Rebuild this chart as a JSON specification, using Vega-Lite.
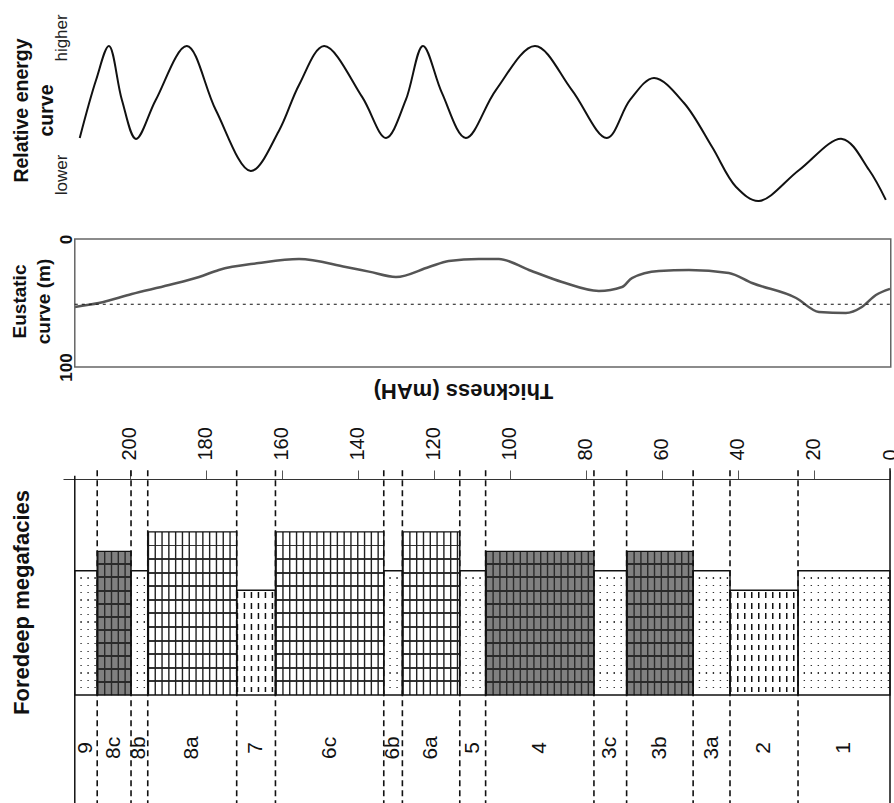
{
  "$schema": "https://vega.github.io/schema/vega-lite/v6.json",
  "autosize": {"type": "pad"},
  "padding": {"left": 9, "top": 12, "right": 0, "bottom": 0},
  "background": "white",
  "bounds": "flush",
  "spacing": 19,
  "config": {"font": "Liberation Sans", "view": {"stroke": null}, "axis": {"grid": false}},
  "datasets": {
    "energy": [
      {"t": 213.2, "v": 33.7}, {"t": 208.9, "v": 64.2}, {"t": 205.5, "v": 82.1}, {"t": 202.1, "v": 53.7},
      {"t": 198.4, "v": 33.2}, {"t": 193.2, "v": 53.7}, {"t": 185.0, "v": 82.1}, {"t": 177.4, "v": 48.4},
      {"t": 168.2, "v": 16.3}, {"t": 160.8, "v": 37.4}, {"t": 155.5, "v": 61.6}, {"t": 148.9, "v": 82.1},
      {"t": 138.9, "v": 55.3}, {"t": 132.6, "v": 33.7}, {"t": 127.4, "v": 53.7}, {"t": 122.9, "v": 82.1},
      {"t": 117.9, "v": 57.4}, {"t": 111.6, "v": 33.7}, {"t": 103.7, "v": 58.9}, {"t": 93.4, "v": 82.1},
      {"t": 83.7, "v": 58.9}, {"t": 74.5, "v": 33.7}, {"t": 68.4, "v": 53.7}, {"t": 62.1, "v": 65.3},
      {"t": 54.2, "v": 52.1}, {"t": 46.8, "v": 28.9}, {"t": 40.5, "v": 7.9}, {"t": 34.5, "v": 0.5},
      {"t": 23.9, "v": 16.8}, {"t": 12.6, "v": 33.2}, {"t": 5.5, "v": 16.8}, {"t": 1.1, "v": 1.1}
    ],
    "eustatic": [
      {"t": 214.5, "depth": 53.1}, {"t": 208.2, "depth": 50}, {"t": 199.5, "depth": 43}, {"t": 189.7, "depth": 36},
      {"t": 181.8, "depth": 29.7}, {"t": 176.6, "depth": 24.2}, {"t": 166.1, "depth": 18.8}, {"t": 155.5, "depth": 15.6},
      {"t": 143.2, "depth": 21.9}, {"t": 137.1, "depth": 25.5}, {"t": 130, "depth": 29.7}, {"t": 121.3, "depth": 21.9},
      {"t": 116.1, "depth": 17.2}, {"t": 108.2, "depth": 15.6}, {"t": 102.9, "depth": 15.6}, {"t": 95, "depth": 24.2},
      {"t": 86.3, "depth": 33.6}, {"t": 76.6, "depth": 40.6}, {"t": 70.5, "depth": 37.5}, {"t": 67.9, "depth": 30.5},
      {"t": 60.8, "depth": 25}, {"t": 52.9, "depth": 24.2}, {"t": 42.4, "depth": 26.6}, {"t": 36.3, "depth": 34.4},
      {"t": 24.7, "depth": 46.1}, {"t": 18.7, "depth": 57}, {"t": 11.6, "depth": 57.8}, {"t": 7.4, "depth": 53.1},
      {"t": 3.7, "depth": 43.8}, {"t": 0, "depth": 39}
    ],
    "beds": [
      {"unit": "9", "top": 214.5, "base": 208.6, "lith": "sandstone", "relief": 1.15},
      {"unit": "8c", "top": 208.6, "base": 199.7, "lith": "dark_limestone", "relief": 1.33},
      {"unit": "8b", "top": 199.7, "base": 195.3, "lith": "sandstone", "relief": 1.15},
      {"unit": "8a", "top": 195.3, "base": 171.9, "lith": "limestone", "relief": 1.51},
      {"unit": "7", "top": 171.9, "base": 161.7, "lith": "mudstone", "relief": 0.97},
      {"unit": "6c", "top": 161.7, "base": 133.2, "lith": "limestone", "relief": 1.51},
      {"unit": "6b", "top": 133.2, "base": 128.3, "lith": "sandstone", "relief": 1.15},
      {"unit": "6a", "top": 128.3, "base": 113.2, "lith": "limestone", "relief": 1.51},
      {"unit": "5", "top": 113.2, "base": 106.4, "lith": "sandstone", "relief": 1.15},
      {"unit": "4", "top": 106.4, "base": 77.9, "lith": "dark_limestone", "relief": 1.33},
      {"unit": "3c", "top": 77.9, "base": 69.3, "lith": "sandstone", "relief": 1.15},
      {"unit": "3b", "top": 69.3, "base": 51.8, "lith": "dark_limestone", "relief": 1.33},
      {"unit": "3a", "top": 51.8, "base": 42.1, "lith": "sandstone", "relief": 1.15},
      {"unit": "2", "top": 42.1, "base": 24.2, "lith": "mudstone", "relief": 0.97},
      {"unit": "1", "top": 24.2, "base": 0, "lith": "sandstone", "relief": 1.15}
    ]
  },
  "vconcat": [
    {
      "width": 827,
      "height": 208,
      "data": {"name": "energy"},
      "mark": {"type": "line", "interpolate": "catmull-rom", "color": "#111", "strokeWidth": 2},
      "encoding": {
        "x": {"field": "t", "type": "quantitative", "scale": {"domain": [0, 217.6], "reverse": true, "nice": false, "zero": false}, "axis": null},
        "y": {
          "field": "v", "type": "quantitative",
          "scale": {"domain": [-9.5, 100], "nice": false, "zero": false},
          "axis": {
            "values": [14.5, 86.6],
            "labelExpr": "datum.value > 50 ? 'higher' : 'lower'",
            "labelAngle": 270,
            "labelAlign": "center",
            "labelBaseline": "alphabetic",
            "labelFontSize": 17,
            "labelColor": "#222",
            "labelPadding": -3,
            "tickSize": 0,
            "ticks": false,
            "domain": false,
            "labelFlush": false,
            "labelOverlap": false,
            "title": ["Relative energy", "curve"],
            "titleFontSize": 19.5,
            "titleFontWeight": "bold",
            "titleColor": "#111",
            "titleLineHeight": 25,
            "titleAngle": 270,
            "titleX": -36,
            "titleY": 98,
            "titleAlign": "center",
            "titleBaseline": "alphabetic"
          }
        }
      }
    },
    {
      "width": 827,
      "height": 221,
      "layer": [
        {
          "data": {"name": "eustatic"},
          "mark": {"type": "line", "interpolate": "monotone", "color": "#555", "strokeWidth": 2.5},
          "encoding": {
            "x": {"field": "t", "type": "quantitative", "scale": {"domain": [0, 217.6], "reverse": true, "nice": false, "zero": false}, "axis": null},
            "y": {
              "field": "depth", "type": "quantitative",
              "scale": {"domain": [0, 172.7], "reverse": true, "nice": false, "zero": false},
              "axis": {
                "values": [0, 100],
                "labelAngle": 270,
                "labelAlign": "center",
                "labelBaseline": "alphabetic",
                "labelFontSize": 17,
                "labelFontWeight": "bold",
                "labelColor": "#111",
                "labelPadding": -8,
                "tickSize": 0,
                "ticks": false,
                "domain": false,
                "labelFlush": false,
                "labelOverlap": false,
                "title": ["Eustatic", "curve (m)"],
                "titleFontSize": 19,
                "titleFontWeight": "bold",
                "titleColor": "#111",
                "titleLineHeight": 24,
                "titleAngle": 270,
                "titleX": -38,
                "titleY": 62,
                "titleAlign": "center",
                "titleBaseline": "alphabetic"
              }
            }
          }
        },
        {
          "data": {"values": [{}]},
          "mark": {"type": "rect", "fillOpacity": 0, "stroke": "#666", "strokeWidth": 1.5},
          "encoding": {
            "x": {"datum": 214.5, "type": "quantitative", "axis": null},
            "x2": {"datum": -0.2},
            "y": {"datum": 0, "type": "quantitative"},
            "y2": {"datum": 100}
          }
        },
        {
          "data": {"values": [{}]},
          "mark": {"type": "rule", "color": "#111", "strokeWidth": 1, "strokeDash": [3, 4]},
          "encoding": {
            "x": {"datum": 214.5, "type": "quantitative", "axis": null},
            "x2": {"datum": 0},
            "y": {"datum": 51, "type": "quantitative"}
          }
        }
      ]
    },
    {
      "width": 827,
      "height": 324,
      "data": {"name": "beds"},
      "layer": [
        {
          "transform": [{"filter": "datum.lith === 'limestone'"}],
          "mark": {"type": "bar", "orient": "vertical", "fill": {"gradient": "linear", "x1": 0, "y1": 0, "x2": 0, "y2": 1, "stops": [
            {"offset": 0, "color": "#fff"},
            {"offset": 0.0773, "color": "#fff"}, {"offset": 0.0773, "color": "#333"}, {"offset": 0.0893, "color": "#333"}, {"offset": 0.0893, "color": "#fff"},
            {"offset": 0.1607, "color": "#fff"}, {"offset": 0.1607, "color": "#333"}, {"offset": 0.1727, "color": "#333"}, {"offset": 0.1727, "color": "#fff"},
            {"offset": 0.244, "color": "#fff"}, {"offset": 0.244, "color": "#333"}, {"offset": 0.256, "color": "#333"}, {"offset": 0.256, "color": "#fff"},
            {"offset": 0.3273, "color": "#fff"}, {"offset": 0.3273, "color": "#333"}, {"offset": 0.3393, "color": "#333"}, {"offset": 0.3393, "color": "#fff"},
            {"offset": 0.4107, "color": "#fff"}, {"offset": 0.4107, "color": "#333"}, {"offset": 0.4227, "color": "#333"}, {"offset": 0.4227, "color": "#fff"},
            {"offset": 0.494, "color": "#fff"}, {"offset": 0.494, "color": "#333"}, {"offset": 0.506, "color": "#333"}, {"offset": 0.506, "color": "#fff"},
            {"offset": 0.5773, "color": "#fff"}, {"offset": 0.5773, "color": "#333"}, {"offset": 0.5893, "color": "#333"}, {"offset": 0.5893, "color": "#fff"},
            {"offset": 0.6607, "color": "#fff"}, {"offset": 0.6607, "color": "#333"}, {"offset": 0.6727, "color": "#333"}, {"offset": 0.6727, "color": "#fff"},
            {"offset": 0.744, "color": "#fff"}, {"offset": 0.744, "color": "#333"}, {"offset": 0.756, "color": "#333"}, {"offset": 0.756, "color": "#fff"},
            {"offset": 0.8273, "color": "#fff"}, {"offset": 0.8273, "color": "#333"}, {"offset": 0.8393, "color": "#333"}, {"offset": 0.8393, "color": "#fff"},
            {"offset": 0.9107, "color": "#fff"}, {"offset": 0.9107, "color": "#333"}, {"offset": 0.9227, "color": "#333"}, {"offset": 0.9227, "color": "#fff"},
            {"offset": 1, "color": "#fff"}
          ]}},
          "encoding": {
            "x": {
              "field": "top", "type": "quantitative",
              "scale": {"domain": [0, 217.6], "reverse": true, "nice": false, "zero": false, "padding": 0},
              "axis": {
                "orient": "top",
                "values": [0, 20, 40, 60, 80, 100, 120, 140, 160, 180, 200],
                "labelAngle": 270,
                "labelAlign": "left",
                "labelBaseline": "middle",
                "labelFontSize": 20,
                "labelColor": "#111",
                "labelPadding": 10,
                "tickSize": 9,
                "tickColor": "#555",
                "domainColor": "#333",
                "labelFlush": false,
                "labelOverlap": false,
                "title": "Thickness (mAH)",
                "titleAngle": 180,
                "titleFontSize": 22,
                "titleFontWeight": "bold",
                "titleColor": "#111",
                "titleX": 400,
                "titleY": -89,
                "titleAlign": "center",
                "titleBaseline": "middle"
              }
            },
            "x2": {"field": "base"},
            "y": {
              "field": "relief", "type": "quantitative", "stack": null,
              "scale": {"domain": [-1, 2], "nice": false, "zero": false, "padding": 0},
              "axis": {
                "orient": "left",
                "labels": false,
                "ticks": false,
                "domain": false,
                "title": "Foredeep megafacies",
                "titleFontSize": 22,
                "titleFontWeight": "bold",
                "titleColor": "#111",
                "titleAngle": 270,
                "titleX": -35,
                "titleY": 123,
                "titleAlign": "center",
                "titleBaseline": "alphabetic"
              }
            }
          }
        },
        {
          "transform": [{"filter": "datum.lith === 'limestone'"}],
          "mark": {"type": "rule", "color": "#222", "strokeWidth": 163, "strokeDash": [1.4, 5.4]},
          "encoding": {
            "x": {"field": "top", "type": "quantitative"},
            "x2": {"field": "base"},
            "y": {"datum": 0.755, "type": "quantitative"}
          }
        },
        {
          "transform": [{"filter": "datum.lith === 'dark_limestone'"}],
          "mark": {"type": "bar", "orient": "vertical", "fill": {"gradient": "linear", "x1": 0, "y1": 0, "x2": 0, "y2": 1, "stops": [
            {"offset": 0, "color": "#808080"},
            {"offset": 0.0839, "color": "#808080"}, {"offset": 0.0839, "color": "#2a2a2a"}, {"offset": 0.0979, "color": "#2a2a2a"}, {"offset": 0.0979, "color": "#808080"},
            {"offset": 0.1748, "color": "#808080"}, {"offset": 0.1748, "color": "#2a2a2a"}, {"offset": 0.1888, "color": "#2a2a2a"}, {"offset": 0.1888, "color": "#808080"},
            {"offset": 0.2657, "color": "#808080"}, {"offset": 0.2657, "color": "#2a2a2a"}, {"offset": 0.2797, "color": "#2a2a2a"}, {"offset": 0.2797, "color": "#808080"},
            {"offset": 0.3566, "color": "#808080"}, {"offset": 0.3566, "color": "#2a2a2a"}, {"offset": 0.3706, "color": "#2a2a2a"}, {"offset": 0.3706, "color": "#808080"},
            {"offset": 0.4475, "color": "#808080"}, {"offset": 0.4475, "color": "#2a2a2a"}, {"offset": 0.4615, "color": "#2a2a2a"}, {"offset": 0.4615, "color": "#808080"},
            {"offset": 0.5385, "color": "#808080"}, {"offset": 0.5385, "color": "#2a2a2a"}, {"offset": 0.5525, "color": "#2a2a2a"}, {"offset": 0.5525, "color": "#808080"},
            {"offset": 0.6294, "color": "#808080"}, {"offset": 0.6294, "color": "#2a2a2a"}, {"offset": 0.6434, "color": "#2a2a2a"}, {"offset": 0.6434, "color": "#808080"},
            {"offset": 0.7203, "color": "#808080"}, {"offset": 0.7203, "color": "#2a2a2a"}, {"offset": 0.7343, "color": "#2a2a2a"}, {"offset": 0.7343, "color": "#808080"},
            {"offset": 0.8112, "color": "#808080"}, {"offset": 0.8112, "color": "#2a2a2a"}, {"offset": 0.8252, "color": "#2a2a2a"}, {"offset": 0.8252, "color": "#808080"},
            {"offset": 0.9021, "color": "#808080"}, {"offset": 0.9021, "color": "#2a2a2a"}, {"offset": 0.9161, "color": "#2a2a2a"}, {"offset": 0.9161, "color": "#808080"},
            {"offset": 1, "color": "#808080"}
          ]}},
          "encoding": {
            "x": {"field": "top", "type": "quantitative"},
            "x2": {"field": "base"},
            "y": {"field": "relief", "type": "quantitative", "stack": null}
          }
        },
        {
          "transform": [{"filter": "datum.lith === 'dark_limestone'"}],
          "mark": {"type": "rule", "color": "#2a2a2a", "strokeWidth": 144, "strokeDash": [1.4, 5.4]},
          "encoding": {
            "x": {"field": "top", "type": "quantitative"},
            "x2": {"field": "base"},
            "y": {"datum": 0.665, "type": "quantitative"}
          }
        },
        {
          "transform": [{"filter": "datum.lith === 'sandstone'"}],
          "mark": {"type": "bar", "orient": "vertical", "fill": {"gradient": "linear", "x1": 0, "y1": 0, "x2": 0, "y2": 1, "stops": [
            {"offset": 0, "color": "#fff"},
            {"offset": 0.0538, "color": "#fff"}, {"offset": 0.0538, "color": "#333"}, {"offset": 0.0638, "color": "#333"}, {"offset": 0.0638, "color": "#fff"},
            {"offset": 0.1126, "color": "#fff"}, {"offset": 0.1126, "color": "#333"}, {"offset": 0.1226, "color": "#333"}, {"offset": 0.1226, "color": "#fff"},
            {"offset": 0.1715, "color": "#fff"}, {"offset": 0.1715, "color": "#333"}, {"offset": 0.1815, "color": "#333"}, {"offset": 0.1815, "color": "#fff"},
            {"offset": 0.2303, "color": "#fff"}, {"offset": 0.2303, "color": "#333"}, {"offset": 0.2403, "color": "#333"}, {"offset": 0.2403, "color": "#fff"},
            {"offset": 0.2891, "color": "#fff"}, {"offset": 0.2891, "color": "#333"}, {"offset": 0.2991, "color": "#333"}, {"offset": 0.2991, "color": "#fff"},
            {"offset": 0.3479, "color": "#fff"}, {"offset": 0.3479, "color": "#333"}, {"offset": 0.3579, "color": "#333"}, {"offset": 0.3579, "color": "#fff"},
            {"offset": 0.4068, "color": "#fff"}, {"offset": 0.4068, "color": "#333"}, {"offset": 0.4168, "color": "#333"}, {"offset": 0.4168, "color": "#fff"},
            {"offset": 0.4656, "color": "#fff"}, {"offset": 0.4656, "color": "#333"}, {"offset": 0.4756, "color": "#333"}, {"offset": 0.4756, "color": "#fff"},
            {"offset": 0.5244, "color": "#fff"}, {"offset": 0.5244, "color": "#333"}, {"offset": 0.5344, "color": "#333"}, {"offset": 0.5344, "color": "#fff"},
            {"offset": 0.5832, "color": "#fff"}, {"offset": 0.5832, "color": "#333"}, {"offset": 0.5932, "color": "#333"}, {"offset": 0.5932, "color": "#fff"},
            {"offset": 0.6421, "color": "#fff"}, {"offset": 0.6421, "color": "#333"}, {"offset": 0.6521, "color": "#333"}, {"offset": 0.6521, "color": "#fff"},
            {"offset": 0.7009, "color": "#fff"}, {"offset": 0.7009, "color": "#333"}, {"offset": 0.7109, "color": "#333"}, {"offset": 0.7109, "color": "#fff"},
            {"offset": 0.7597, "color": "#fff"}, {"offset": 0.7597, "color": "#333"}, {"offset": 0.7697, "color": "#333"}, {"offset": 0.7697, "color": "#fff"},
            {"offset": 0.8185, "color": "#fff"}, {"offset": 0.8185, "color": "#333"}, {"offset": 0.8285, "color": "#333"}, {"offset": 0.8285, "color": "#fff"},
            {"offset": 0.8774, "color": "#fff"}, {"offset": 0.8774, "color": "#333"}, {"offset": 0.8874, "color": "#333"}, {"offset": 0.8874, "color": "#fff"},
            {"offset": 0.9362, "color": "#fff"}, {"offset": 0.9362, "color": "#333"}, {"offset": 0.9462, "color": "#333"}, {"offset": 0.9462, "color": "#fff"},
            {"offset": 1, "color": "#fff"}
          ]}},
          "encoding": {
            "x": {"field": "top", "type": "quantitative"},
            "x2": {"field": "base"},
            "y": {"field": "relief", "type": "quantitative", "stack": null}
          }
        },
        {
          "transform": [{"filter": "datum.lith === 'sandstone'"}],
          "mark": {"type": "rule", "color": "#fff", "strokeWidth": 124, "strokeDash": [5.6, 1.4]},
          "encoding": {
            "x": {"field": "top", "type": "quantitative"},
            "x2": {"field": "base"},
            "y": {"datum": 0.575, "type": "quantitative"}
          }
        },
        {
          "transform": [{"filter": "datum.lith === 'mudstone'"}],
          "mark": {"type": "bar", "orient": "vertical", "fill": "#fff"},
          "encoding": {
            "x": {"field": "top", "type": "quantitative"},
            "x2": {"field": "base"},
            "y": {"field": "relief", "type": "quantitative", "stack": null}
          }
        },
        {
          "transform": [{"filter": "datum.lith === 'mudstone'"}],
          "mark": {"type": "rule", "color": "#111", "strokeWidth": 105, "strokeDash": [1.5, 5.5]},
          "encoding": {
            "x": {"field": "top", "type": "quantitative"},
            "x2": {"field": "base"},
            "y": {"datum": 0.485, "type": "quantitative"}
          }
        },
        {
          "transform": [{"filter": "datum.lith === 'mudstone'"}],
          "mark": {"type": "bar", "orient": "vertical", "fill": {"gradient": "linear", "x1": 0, "y1": 0, "x2": 0, "y2": 1, "stops": [
            {"offset": 0, "color": "#fff"},
            {"offset": 0.02, "color": "#fff"}, {"offset": 0.02, "color": "rgba(255,255,255,0)"}, {"offset": 0.075, "color": "rgba(255,255,255,0)"}, {"offset": 0.075, "color": "#fff"},
            {"offset": 0.12, "color": "#fff"}, {"offset": 0.12, "color": "rgba(255,255,255,0)"}, {"offset": 0.175, "color": "rgba(255,255,255,0)"}, {"offset": 0.175, "color": "#fff"},
            {"offset": 0.22, "color": "#fff"}, {"offset": 0.22, "color": "rgba(255,255,255,0)"}, {"offset": 0.275, "color": "rgba(255,255,255,0)"}, {"offset": 0.275, "color": "#fff"},
            {"offset": 0.32, "color": "#fff"}, {"offset": 0.32, "color": "rgba(255,255,255,0)"}, {"offset": 0.375, "color": "rgba(255,255,255,0)"}, {"offset": 0.375, "color": "#fff"},
            {"offset": 0.42, "color": "#fff"}, {"offset": 0.42, "color": "rgba(255,255,255,0)"}, {"offset": 0.475, "color": "rgba(255,255,255,0)"}, {"offset": 0.475, "color": "#fff"},
            {"offset": 0.52, "color": "#fff"}, {"offset": 0.52, "color": "rgba(255,255,255,0)"}, {"offset": 0.575, "color": "rgba(255,255,255,0)"}, {"offset": 0.575, "color": "#fff"},
            {"offset": 0.62, "color": "#fff"}, {"offset": 0.62, "color": "rgba(255,255,255,0)"}, {"offset": 0.675, "color": "rgba(255,255,255,0)"}, {"offset": 0.675, "color": "#fff"},
            {"offset": 0.72, "color": "#fff"}, {"offset": 0.72, "color": "rgba(255,255,255,0)"}, {"offset": 0.775, "color": "rgba(255,255,255,0)"}, {"offset": 0.775, "color": "#fff"},
            {"offset": 0.82, "color": "#fff"}, {"offset": 0.82, "color": "rgba(255,255,255,0)"}, {"offset": 0.875, "color": "rgba(255,255,255,0)"}, {"offset": 0.875, "color": "#fff"},
            {"offset": 0.92, "color": "#fff"}, {"offset": 0.92, "color": "rgba(255,255,255,0)"}, {"offset": 0.975, "color": "rgba(255,255,255,0)"}, {"offset": 0.975, "color": "#fff"},
            {"offset": 1, "color": "#fff"}
          ]}},
          "encoding": {
            "x": {"field": "top", "type": "quantitative"},
            "x2": {"field": "base"},
            "y": {"field": "relief", "type": "quantitative", "stack": null}
          }
        },
        {
          "mark": {"type": "bar", "orient": "vertical", "fillOpacity": 0, "stroke": "#111", "strokeWidth": 1.4},
          "encoding": {
            "x": {"field": "top", "type": "quantitative"},
            "x2": {"field": "base"},
            "y": {"field": "relief", "type": "quantitative", "stack": null}
          }
        },
        {
          "transform": [{"filter": "datum.top < 214"}],
          "mark": {"type": "rule", "color": "#111", "strokeWidth": 1.6, "strokeDash": [6, 4]},
          "encoding": {
            "x": {"field": "top", "type": "quantitative"},
            "y": {"datum": 2.08, "type": "quantitative"},
            "y2": {"datum": -1}
          }
        },
        {
          "data": {"values": [{}]},
          "mark": {"type": "rule", "color": "#111", "strokeWidth": 1.5},
          "encoding": {
            "x": {"datum": 214.5, "type": "quantitative"},
            "y": {"datum": 2.03, "type": "quantitative"},
            "y2": {"datum": -1}
          }
        },
        {
          "data": {"values": [{}]},
          "mark": {"type": "rule", "color": "#111", "strokeWidth": 1.5},
          "encoding": {
            "x": {"datum": 0, "type": "quantitative"},
            "y": {"datum": 2.1, "type": "quantitative"},
            "y2": {"datum": -1}
          }
        },
        {
          "transform": [
            {"fold": ["top", "base"], "as": ["edge", "t"]},
            {"joinaggregate": [{"op": "mean", "field": "t", "as": "mid"}], "groupby": ["unit"]},
            {"filter": "datum.edge === 'top'"}
          ],
          "mark": {"type": "text", "angle": 270, "fontSize": 21, "align": "center", "baseline": "middle", "color": "#111"},
          "encoding": {
            "x": {"field": "mid", "type": "quantitative"},
            "y": {"datum": -0.49, "type": "quantitative"},
            "text": {"field": "unit", "type": "nominal"}
          }
        }
      ]
    }
  ]
}
